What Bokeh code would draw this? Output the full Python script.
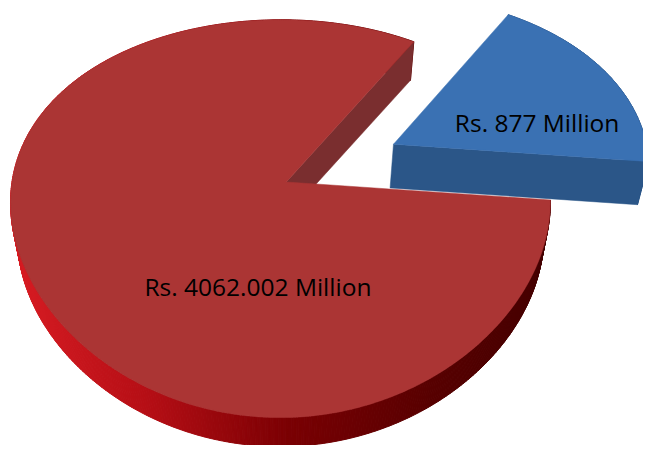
import numpy as np
from bokeh.plotting import figure
from bokeh.models import Range1d
from bokeh.embed import file_html
from bokeh.resources import INLINE
from bokeh.core.properties import value

# ---- data ----
categories = ["Share A", "Share B"]
values = [877.0, 4062.002]
labels = ["Rs. 877 Million", "Rs. 4062.002 Million"]
explode = [0.46, 0.0]

# ---- styles ----
TOP = ["#3a71b3", "#ab3534"]
FACE = ["#2b5688", "#7a2e2f"]
WALL_SOLID = ["#2b5688", None]
RED_WALL_STOPS = [(10, "#d81c23"), (150, "#b60e15"), (300, "#7a0003"), (450, "#570000"), (580, "#430000")]
DEPTH = [0.031, 0.0255]          # thickness as fraction toward the vanishing point
START_ANGLE = -5.4
LABEL_UV = [(0.575, 0.129), (-0.100, -0.492)]

# perspective view of the pie plane
X0, Y0, A, B, T, TX, S = 296.0, 188.0, 278.0, 199.0, 0.1845, 0.103, 0.0214
XV, YV = 293.0, 1608.0           # vanishing point of the vertical edges


def proj(u, v):
    u = np.asarray(u, float)
    v = np.asarray(v, float)
    wy = 1 + T * v + S * u
    wx = 1 + TX * v + S * u
    return X0 + A * u / wx, Y0 - B * v / wy


def drop(x, y, f):
    return x + f * (XV - x), y + f * (YV - y)


def hex2rgb(h):
    return np.array([int(h[i:i + 2], 16) for i in (1, 3, 5)], float)


def grad(x):
    xs = [s[0] for s in RED_WALL_STOPS]
    cs = np.array([hex2rgb(s[1]) for s in RED_WALL_STOPS])
    r = [np.interp(x, xs, cs[:, k]) for k in range(3)]
    return "#%02x%02x%02x" % tuple(int(round(c)) for c in r)


p = figure(width=643, height=445, output_backend="svg", toolbar_location=None,
           x_range=Range1d(0, 666), y_range=Range1d(461, 0), min_border=0)
p.axis.visible = False
p.grid.visible = False
p.outline_line_color = None
p.background_fill_color = "white"
p.border_fill_color = "white"

total = sum(values)
edges = [START_ANGLE]
for val in values:
    edges.append(edges[-1] + 360.0 * val / total)

for i in range(len(values)):
    a0, a1 = edges[i], edges[i + 1]
    mid = np.radians((a0 + a1) / 2)
    ou, ov = explode[i] * np.cos(mid), explode[i] * np.sin(mid)
    n = max(8, int(abs(a1 - a0) * 2))
    ang = np.radians(np.linspace(a0, a1, n))
    au, av = ou + np.cos(ang), ov + np.sin(ang)
    f = DEPTH[i]
    tx, ty = proj(au, av)
    bx, by = drop(tx, ty, f)
    # outer wall
    wxs, wys, wcs = [], [], []
    for k in range(n - 1):
        wxs.append([tx[k], tx[k + 1], bx[k + 1], bx[k]])
        wys.append([ty[k], ty[k + 1], by[k + 1], by[k]])
        c = WALL_SOLID[i] if WALL_SOLID[i] else grad((tx[k] + tx[k + 1]) / 2)
        wcs.append(c)
    p.patches(wxs, wys, fill_color=wcs, line_color=wcs, line_width=1)
    # visible radial cut faces
    cx, cy = proj(ou, ov)
    cx, cy = float(cx), float(cy)
    cbx, cby = drop(cx, cy, f)
    faces_x, faces_y = [], []
    if np.cos(np.radians(a0)) > 0:
        faces_x.append([cx, tx[0], bx[0], cbx])
        faces_y.append([cy, ty[0], by[0], cby])
    if np.cos(np.radians(a1)) < 0:
        faces_x.append([cx, tx[-1], bx[-1], cbx])
        faces_y.append([cy, ty[-1], by[-1], cby])
    if faces_x:
        p.patches(faces_x, faces_y, fill_color=FACE[i], line_color=FACE[i], line_width=0.5)
    # top surface
    p.patch(np.concatenate([[cx], tx]), np.concatenate([[cy], ty]),
            fill_color=TOP[i], line_color=TOP[i], line_width=0.5)

# labels
for i in range(len(values)):
    a0, a1 = edges[i], edges[i + 1]
    mid = np.radians((a0 + a1) / 2)
    ou, ov = explode[i] * np.cos(mid), explode[i] * np.sin(mid)
    lx, ly = proj(ou + LABEL_UV[i][0], ov + LABEL_UV[i][1])
    p.text([float(lx)], [float(ly)], text=[labels[i]], text_align="center",
           text_baseline="alphabetic", text_font=value("Open Sans"),
           text_font_size="24.5px", text_color="#000000")

open("out.html", "w").write(file_html(p, INLINE))
